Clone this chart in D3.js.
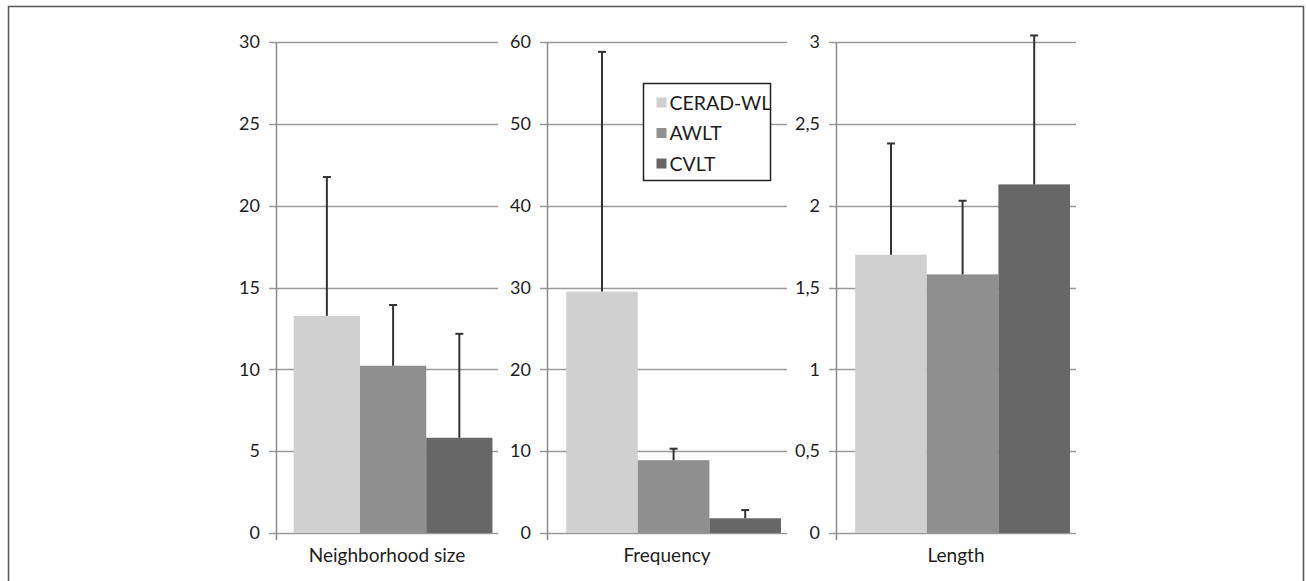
<!DOCTYPE html>
<html>
<head>
<meta charset="utf-8">
<script src="https://cdn.jsdelivr.net/npm/d3@7"></script>
<style>
  html, body { margin: 0; padding: 0; background: #fff; }
  svg { display: block; }
  text { font-family: Lato, "Liberation Sans", sans-serif; fill: #1e1e1e; }
</style>
</head>
<body>
<svg id="chart" width="1306" height="581"></svg>
<script>
// Word-list measures, one panel per category
const categories = ["Neighborhood size", "Frequency", "Length"];
const series = ["CERAD-WL", "AWLT", "CVLT"];
const seriesColors = ["#d0d0d0", "#8f8f8f", "#676767"];

// means and upper error (mean + SD), per category
const neighborhoodMeans = [13.27, 10.22, 5.82];
const neighborhoodTops = [21.75, 13.93, 12.17];
const frequencyMeans = [29.5, 8.9, 1.8];
const frequencyTops = [58.8, 10.3, 2.8];
const lengthMeans = [1.70, 1.58, 2.13];
const lengthTops = [2.38, 2.03, 3.04];

// y ticks for each panel
const neighborhoodTicks = [0, 5, 10, 15, 20, 25, 30];
const frequencyTicks = [0, 10, 20, 30, 40, 50, 60];
const lengthTicks = [0, 0.5, 1, 1.5, 2, 2.5, 3];

const panels = [
  { name: categories[0], means: neighborhoodMeans, tops: neighborhoodTops, ticks: neighborhoodTicks, x0: 276, x1: 498 },
  { name: categories[1], means: frequencyMeans, tops: frequencyTops, ticks: frequencyTicks, x0: 547, x1: 787 },
  { name: categories[2], means: lengthMeans, tops: lengthTops, ticks: lengthTicks, x0: 836, x1: 1076 }
];

// comma as decimal separator, like the original
const locale = d3.formatLocale({ decimal: ",", thousands: ".", grouping: [3], currency: ["", ""] });
const fmt = locale.format("~g");

const svg = d3.select("#chart");
const plotTop = 42, plotBottom = 533;

// outer frame (open at the bottom)
svg.append("path")
  .attr("d", "M8.5,640 V6.5 H1303.5 V640")
  .attr("fill", "none")
  .attr("stroke", "#555")
  .attr("stroke-width", 1.5);

panels.forEach(p => {
  const g = svg.append("g");
  const w = p.x1 - p.x0;

  const y = d3.scaleLinear()
    .domain([0, d3.max(p.ticks)])
    .range([plotBottom, plotTop]);

  const x = d3.scaleBand()
    .domain(series)
    .range([p.x0 + 0.08 * w, p.x0 + 0.975 * w])
    .padding(0);

  // gridlines with outward tick
  g.selectAll("line.grid")
    .data(p.ticks)
    .enter()
    .append("line")
    .attr("class", "grid")
    .attr("x1", p.x0 - 7)
    .attr("x2", p.x1)
    .attr("y1", d => Math.round(y(d)) + 0.5)
    .attr("y2", d => Math.round(y(d)) + 0.5)
    .attr("stroke", "#9a9a9a")
    .attr("stroke-width", 1.5);

  // tick labels
  g.selectAll("text.tick")
    .data(p.ticks)
    .enter()
    .append("text")
    .attr("class", "tick")
    .attr("x", p.x0 - 16)
    .attr("y", d => y(d))
    .attr("dy", "0.35em")
    .attr("text-anchor", "end")
    .attr("font-size", "18px")
    .text(d => fmt(d));

  // bars
  g.selectAll("rect.bar")
    .data(p.means)
    .enter()
    .append("rect")
    .attr("class", "bar")
    .attr("x", (d, i) => x(series[i]))
    .attr("width", x.bandwidth())
    .attr("y", d => y(d))
    .attr("height", d => y(0) - y(d))
    .attr("fill", (d, i) => seriesColors[i]);

  // y axis line
  g.append("line")
    .attr("x1", p.x0 + 0.5)
    .attr("x2", p.x0 + 0.5)
    .attr("y1", y(d3.max(p.ticks)))
    .attr("y2", plotBottom + 7)
    .attr("stroke", "#8a8a8a")
    .attr("stroke-width", 1.5);

  // error bars (upper only)
  const cx = i => x(series[i]) + x.bandwidth() / 2;
  g.selectAll("line.err")
    .data(p.tops)
    .enter()
    .append("line")
    .attr("class", "err")
    .attr("x1", (d, i) => cx(i))
    .attr("x2", (d, i) => cx(i))
    .attr("y1", (d, i) => y(p.means[i]))
    .attr("y2", d => y(d))
    .attr("stroke", "#333")
    .attr("stroke-width", 2);

  g.selectAll("line.cap")
    .data(p.tops)
    .enter()
    .append("line")
    .attr("class", "cap")
    .attr("x1", (d, i) => cx(i) - 4)
    .attr("x2", (d, i) => cx(i) + 4)
    .attr("y1", d => y(d))
    .attr("y2", d => y(d))
    .attr("stroke", "#333")
    .attr("stroke-width", 2);

  // category label
  g.append("text")
    .attr("x", (p.x0 + p.x1) / 2)
    .attr("y", 562)
    .attr("text-anchor", "middle")
    .attr("font-size", "19px")
    .text(p.name);
});

// legend
const legend = svg.append("g").attr("transform", "translate(643.5,83.5)");
legend.append("rect")
  .attr("width", 127)
  .attr("height", 97)
  .attr("fill", "#fff")
  .attr("stroke", "#222")
  .attr("stroke-width", 1.5);

const items = legend.selectAll("g.item")
  .data(series)
  .enter()
  .append("g")
  .attr("class", "item")
  .attr("transform", (d, i) => `translate(13,${19 + i * 30.5})`);

items.append("rect")
  .attr("x", 0)
  .attr("y", -5)
  .attr("width", 10)
  .attr("height", 10)
  .attr("fill", (d, i) => seriesColors[i]);

items.append("text")
  .attr("x", 13)
  .attr("y", 0)
  .attr("dy", "0.36em")
  .attr("font-size", "19.5px")
  .text(d => d);
</script>
</body>
</html>
